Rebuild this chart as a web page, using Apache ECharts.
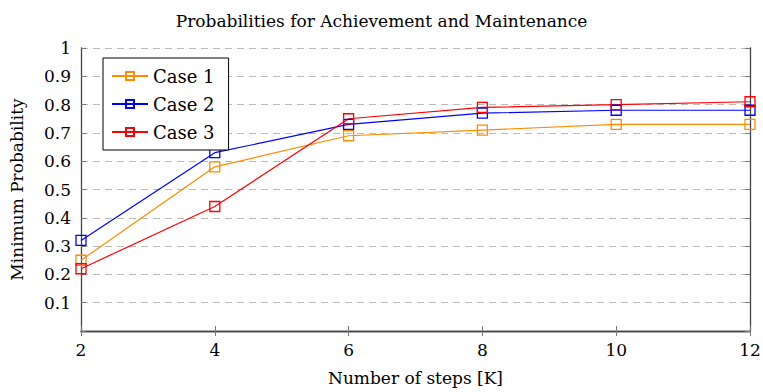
<!DOCTYPE html>
<html>
<head>
<meta charset="utf-8">
<script src="https://cdn.jsdelivr.net/npm/echarts@6/dist/echarts.min.js"></script>
<style>
  html, body { margin: 0; padding: 0; background: #fff; }
  #chart { width: 763px; height: 392px; }
</style>
</head>
<body>
<div id="chart"></div>
<script>
// data
const steps = [2, 4, 6, 8, 10, 12]
const case1 = [0.25, 0.58, 0.69, 0.71, 0.73, 0.73]
const case2 = [0.32, 0.63, 0.73, 0.77, 0.78, 0.78]
const case3 = [0.22, 0.44, 0.75, 0.79, 0.80, 0.81]
const seriesNames = ['Case 1', 'Case 2', 'Case 3']
const seriesColors = ['#ff8c00', '#0000ff', '#ff0000']

const font = '"DejaVu Serif", serif'
const chart = echarts.init(document.getElementById('chart'), null, { renderer: 'svg' })

const makeSeries = (name, vals, color) => ({
  name,
  type: 'line',
  data: steps.map((x, i) => [x, vals[i]]),
  symbol: 'rect',
  symbolSize: 10,
  lineStyle: { color, width: 1.2 },
  itemStyle: { color: 'rgba(255,255,255,0)', borderColor: color, borderWidth: 1.3 },
  emphasis: { disabled: true },
})

const tickStyle = { show: true, inside: true, length: 5, lineStyle: { color: '#777' } }

chart.setOption({
  animation: false,
  title: {
    text: 'Probabilities for Achievement and Maintenance',
    left: 'center',
    top: 7,
    textStyle: { fontFamily: font, fontSize: 17, fontWeight: 'normal', color: '#000' },
  },
  grid: { left: 81, right: 13, top: 48, bottom: 61, outerBoundsMode: 'none' },
  legend: {
    left: 103,
    top: 58,
    orient: 'vertical',
    backgroundColor: '#fff',
    borderColor: '#000',
    borderWidth: 1,
    padding: [9, 14, 9, 8],
    itemGap: 10,
    itemWidth: 36,
    itemHeight: 10,
    textStyle: { fontFamily: font, fontSize: 18, color: '#000' },
    data: seriesNames,
  },
  xAxis: [
    {
      type: 'value',
      min: 2,
      max: 12,
      interval: 2,
      name: 'Number of steps [K]',
      nameLocation: 'middle',
      nameGap: 38,
      nameTextStyle: { fontFamily: font, fontSize: 17, color: '#000' },
      axisLine: { lineStyle: { color: '#444', width: 1.3 } },
      axisTick: tickStyle,
      axisLabel: { fontFamily: font, fontSize: 17, color: '#000', margin: 10 },
      splitLine: { show: false },
    },
    {
      type: 'value',
      position: 'top',
      min: 2,
      max: 12,
      interval: 2,
      axisLine: { show: true, lineStyle: { color: '#444', width: 1.3 } },
      axisTick: tickStyle,
      axisLabel: { show: false },
      splitLine: { show: false },
    },
  ],
  yAxis: [
    {
      type: 'value',
      min: 0,
      max: 1,
      interval: 0.1,
      name: 'Minimum Probability',
      nameLocation: 'middle',
      nameGap: 56,
      nameTextStyle: { fontFamily: font, fontSize: 17, color: '#000' },
      axisLine: { show: true, lineStyle: { color: '#444', width: 1.3 } },
      axisTick: tickStyle,
      axisLabel: {
        fontFamily: font,
        fontSize: 17,
        color: '#000',
        margin: 10,
        formatter: v => (v === 0 ? '' : String(Math.round(v * 10) / 10)),
      },
      splitLine: { show: true, lineStyle: { color: '#bbb', type: [7, 5], width: 1 } },
    },
    {
      type: 'value',
      position: 'right',
      min: 0,
      max: 1,
      interval: 0.1,
      axisLine: { show: true, lineStyle: { color: '#444', width: 1.3 } },
      axisTick: tickStyle,
      axisLabel: { show: false },
      splitLine: { show: false },
    },
  ],
  series: [
    makeSeries(seriesNames[0], case1, seriesColors[0]),
    makeSeries(seriesNames[1], case2, seriesColors[1]),
    makeSeries(seriesNames[2], case3, seriesColors[2]),
  ],
})
</script>
</body>
</html>
